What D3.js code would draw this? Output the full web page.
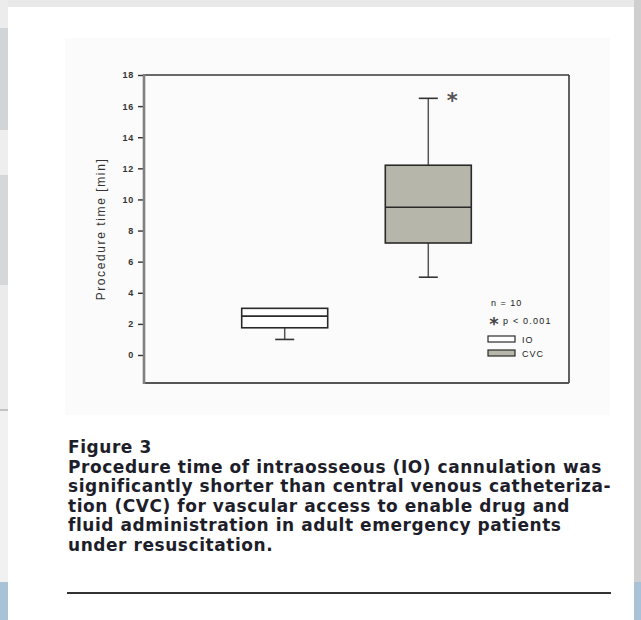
<!DOCTYPE html>
<html>
<head>
<meta charset="utf-8">
<script src="https://cdn.jsdelivr.net/npm/d3@7"></script>
<style>
  body { margin: 0; background: #e4e4e4; }
  svg { display: block; }
</style>
</head>
<body>
<div class="canvas"></div>
<script>
// data
var groups = ["IO", "CVC"]
var mins = [1, 5]
var q1s = [1.75, 7.2]
var medians = [2.5, 9.5]
var q3s = [3, 12.2]
var maxs = [3, 16.5]
var yTicks = [0, 2, 4, 6, 8, 10, 12, 14, 16, 18]
var legendNote = "n = 10"
var legendSig = "p < 0.001"
var caption = [
  "Figure 3",
  "Procedure time of intraosseous (IO) cannulation was",
  "significantly shorter than central venous catheteriza-",
  "tion (CVC) for vascular access to enable drug and",
  "fluid administration in adult emergency patients",
  "under resuscitation."
]

var W = 641, H = 620
var svg = d3.select(".canvas").append("svg").attr("width", W).attr("height", H)

// page background bits (the scan around the card)
svg.append("rect").attr("x", 0).attr("y", 0).attr("width", W).attr("height", H).attr("fill", "#e9e9e9")
var bands = [[0, 28, "#ececec"], [28, 130, "#d2d5d8"], [130, 175, "#eeeeee"], [175, 285, "#d5d7d9"],
             [285, 410, "#ebebeb"], [410, 582, "#f1f1f1"], [582, 620, "#a8c3d8"]]
bands.forEach(function(b) {
  svg.append("rect").attr("x", 0).attr("y", b[0]).attr("width", 8).attr("height", b[1] - b[0]).attr("fill", b[2])
})
svg.append("line").attr("x1", 0).attr("x2", 8).attr("y1", 410).attr("y2", 410).attr("stroke", "#999")
svg.append("rect").attr("x", 634).attr("y", 0).attr("width", 7).attr("height", H).attr("fill", "#cfcfcf")
svg.append("rect").attr("x", 634).attr("y", 582).attr("width", 7).attr("height", 38).attr("fill", "#a8c3d8")

// white card
svg.append("rect").attr("x", 8).attr("y", 7).attr("width", 626).attr("height", H - 7).attr("fill", "#ffffff")
// faint scanned figure area
svg.append("rect").attr("x", 65).attr("y", 38).attr("width", 545).attr("height", 377).attr("fill", "#fbfbfb")

// plot region
var plotL = 144, plotR = 569, plotT = 75, plotB = 383

var y = d3.scaleLinear().domain([0, 18]).range([355, 75])
var x = d3.scalePoint().domain(groups).range([plotL, plotR]).padding(0.98)
var boxW = 86, capW = 19

// frame
svg.append("line").attr("x1", plotL).attr("x2", plotR).attr("y1", plotT).attr("y2", plotT)
  .attr("stroke", "#3a3a3a").attr("stroke-width", 1.6)
svg.append("line").attr("x1", plotR).attr("x2", plotR).attr("y1", plotT).attr("y2", plotB)
  .attr("stroke", "#3a3a3a").attr("stroke-width", 1.6)
svg.append("line").attr("x1", plotL).attr("x2", plotR).attr("y1", plotB).attr("y2", plotB)
  .attr("stroke", "#555").attr("stroke-width", 2)

// y axis
var yAxis = svg.append("g").attr("transform", "translate(" + plotL + ",0)")
  .call(d3.axisLeft(y).tickValues(yTicks).tickSize(6).tickPadding(4))
yAxis.select(".domain").remove()
yAxis.selectAll(".tick line").attr("stroke", "#333").attr("stroke-width", 1.4)
yAxis.selectAll(".tick text").attr("font-family", "Arial, 'Liberation Sans', sans-serif")
  .attr("font-size", 9).attr("font-weight", "bold").attr("fill", "#333")
  .attr("letter-spacing", 0.8)
svg.append("line").attr("x1", plotL).attr("x2", plotL).attr("y1", plotT - 1).attr("y2", plotB + 1)
  .attr("stroke", "#808080").attr("stroke-width", 2.6)

svg.append("text")
  .attr("transform", "translate(105," + 229 + ") rotate(-90)")
  .attr("text-anchor", "middle")
  .attr("font-family", "Arial, 'Liberation Sans', sans-serif")
  .attr("font-size", 12).attr("fill", "#333")
  .attr("letter-spacing", 1.6)
  .text("Procedure time [min]")

var fill = d3.scaleOrdinal().domain(groups).range(["#ffffff", "#b7b6aa"])

// whiskers
groups.forEach(function(g, i) {
  var cx = x(g)
  if (maxs[i] > q3s[i]) {
    svg.append("line").attr("x1", cx).attr("x2", cx).attr("y1", y(q3s[i])).attr("y2", y(maxs[i]))
      .attr("stroke", "#555").attr("stroke-width", 1.5)
    svg.append("line").attr("x1", cx - capW / 2).attr("x2", cx + capW / 2).attr("y1", y(maxs[i])).attr("y2", y(maxs[i]))
      .attr("stroke", "#333").attr("stroke-width", 1.6)
  }
  svg.append("line").attr("x1", cx).attr("x2", cx).attr("y1", y(q1s[i])).attr("y2", y(mins[i]))
    .attr("stroke", "#555").attr("stroke-width", 1.5)
  svg.append("line").attr("x1", cx - capW / 2).attr("x2", cx + capW / 2).attr("y1", y(mins[i])).attr("y2", y(mins[i]))
    .attr("stroke", "#333").attr("stroke-width", 1.6)
})

// boxes
svg.selectAll(".box").data(groups).enter().append("rect")
  .attr("class", "box")
  .attr("x", function(d) { return x(d) - boxW / 2 })
  .attr("y", function(d, i) { return y(q3s[i]) })
  .attr("width", boxW)
  .attr("height", function(d, i) { return y(q1s[i]) - y(q3s[i]) })
  .attr("fill", function(d) { return fill(d) })
  .attr("stroke", "#2a2a2a").attr("stroke-width", 1.6)

svg.selectAll(".median").data(groups).enter().append("line")
  .attr("class", "median")
  .attr("x1", function(d) { return x(d) - boxW / 2 })
  .attr("x2", function(d) { return x(d) + boxW / 2 })
  .attr("y1", function(d, i) { return y(medians[i]) })
  .attr("y2", function(d, i) { return y(medians[i]) })
  .attr("stroke", "#2a2a2a").attr("stroke-width", 1.6)

// significance star next to the CVC max
svg.append("text")
  .attr("x", x("CVC") + 24).attr("y", y(maxs[1]) + 10)
  .attr("text-anchor", "middle")
  .attr("font-family", "'DejaVu Sans', sans-serif").attr("font-size", 21).attr("font-weight", "bold")
  .attr("fill", "#555").text("*")

// legend
var lg = svg.append("g").attr("transform", "translate(488,0)")
var lfont = "Arial, 'Liberation Sans', sans-serif"
lg.append("text").attr("x", 3).attr("y", 306).attr("font-family", lfont).attr("font-size", 9)
  .attr("letter-spacing", 1).attr("fill", "#222").text(legendNote)
lg.append("text").attr("x", 6).attr("y", 330).attr("text-anchor", "middle")
  .attr("font-family", "'DejaVu Sans', sans-serif").attr("font-size", 18).attr("font-weight", "bold")
  .attr("fill", "#444").text("*")
lg.append("text").attr("x", 15).attr("y", 324).attr("font-family", lfont).attr("font-size", 9)
  .attr("letter-spacing", 1.2).attr("fill", "#222").text(legendSig)
groups.forEach(function(g, i) {
  var yy = 336 + i * 14
  lg.append("rect").attr("x", 0).attr("y", yy).attr("width", 27).attr("height", 6)
    .attr("fill", fill(g)).attr("stroke", "#2a2a2a").attr("stroke-width", 1.2)
  lg.append("text").attr("x", 34).attr("y", yy + 7).attr("font-family", lfont).attr("font-size", 9)
    .attr("letter-spacing", 1).attr("fill", "#222").text(g)
})

// caption
svg.selectAll(".cap").data(caption).enter().append("text")
  .attr("class", "cap")
  .attr("x", 68)
  .attr("y", function(d, i) { return 453 + i * 19.6 })
  .attr("font-family", "'DejaVu Sans', sans-serif").attr("font-weight", "bold")
  .attr("font-size", 17).attr("letter-spacing", 0.55).attr("fill", "#1e1e2a")
  .text(function(d) { return d })

svg.append("line").attr("x1", 67).attr("x2", 611).attr("y1", 593).attr("y2", 593)
  .attr("stroke", "#333").attr("stroke-width", 2)
</script>
</body>
</html>
